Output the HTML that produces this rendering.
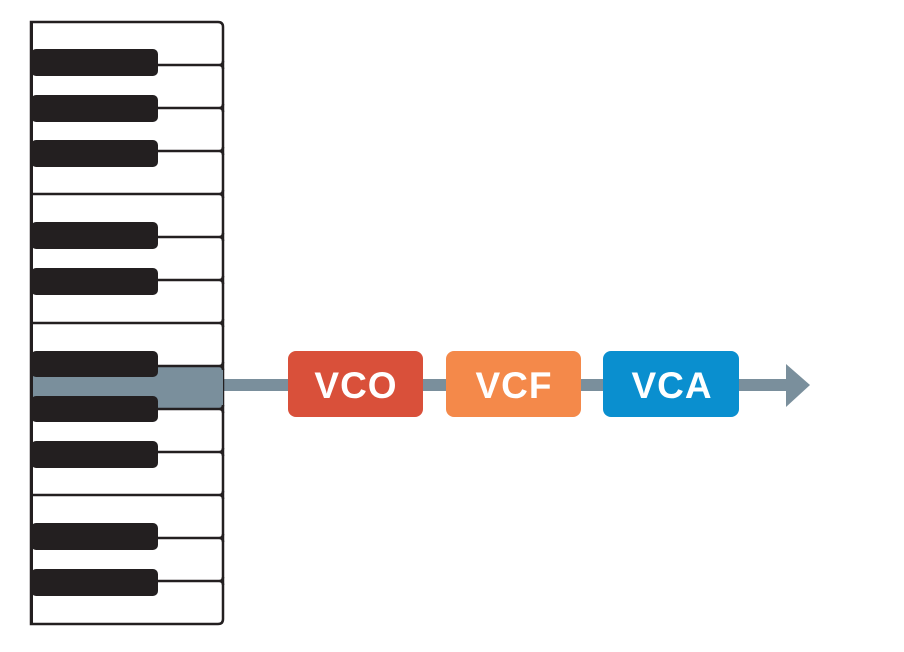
<!DOCTYPE html>
<html><head><style>body{margin:0;background:#fff}</style></head><body>
<svg width="904" height="647" xmlns="http://www.w3.org/2000/svg">
<rect x="0" y="0" width="904" height="647" fill="#fff"/>
<rect x="220" y="379" width="570" height="12" fill="#7a8f9c"/>
<polygon points="786,364 810,385 786,407" fill="#7a8f9c"/>
<path d="M31,22 H218 Q223,22 223,27 V619 Q223,624 218,624 H31 Z" fill="#fff" stroke="#231f20" stroke-width="2.5"/>
<path d="M31,366 H219 Q223,366 223,370 V405 Q223,409 219,409 H31 Z" fill="#7a8f9c"/>
<g stroke="#231f20" stroke-width="2.5" fill="none">
<path d="M155,65 H219 M223,61 Q223,65 219,65 Q223,65 223,69"/>
<path d="M155,108 H219 M223,104 Q223,108 219,108 Q223,108 223,112"/>
<path d="M155,151 H219 M223,147 Q223,151 219,151 Q223,151 223,155"/>
<path d="M31,194 H219 M223,190 Q223,194 219,194 Q223,194 223,198"/>
<path d="M155,237 H219 M223,233 Q223,237 219,237 Q223,237 223,241"/>
<path d="M155,280 H219 M223,276 Q223,280 219,280 Q223,280 223,284"/>
<path d="M31,323 H219 M223,319 Q223,323 219,323 Q223,323 223,327"/>
<path d="M155,366 H219 M223,362 Q223,366 219,366 Q223,366 223,370"/>
<path d="M155,409 H219 M223,405 Q223,409 219,409 Q223,409 223,413"/>
<path d="M155,452 H219 M223,448 Q223,452 219,452 Q223,452 223,456"/>
<path d="M31,495 H219 M223,491 Q223,495 219,495 Q223,495 223,499"/>
<path d="M155,538 H219 M223,534 Q223,538 219,538 Q223,538 223,542"/>
<path d="M155,581 H219 M223,577 Q223,581 219,581 Q223,581 223,585"/>
</g>
<g fill="#231f20">
<rect x="31" y="49" width="127" height="27" rx="5"/>
<rect x="31" y="95" width="127" height="27" rx="5"/>
<rect x="31" y="140" width="127" height="27" rx="5"/>
<rect x="31" y="222" width="127" height="27" rx="5"/>
<rect x="31" y="268" width="127" height="27" rx="5"/>
<rect x="31" y="351" width="127" height="26" rx="5"/>
<rect x="31" y="396" width="127" height="26" rx="5"/>
<rect x="31" y="441" width="127" height="27" rx="5"/>
<rect x="31" y="523" width="127" height="27" rx="5"/>
<rect x="31" y="569" width="127" height="27" rx="5"/>
</g>
<rect x="30" y="22" width="3" height="603" fill="#231f20"/>
<rect x="288" y="351" width="135" height="66" rx="8" fill="#d9503a"/>
<rect x="446" y="351" width="135" height="66" rx="8" fill="#f4894a"/>
<rect x="603" y="351" width="136" height="66" rx="8" fill="#0a8fcf"/>
<g font-family="Liberation Sans, sans-serif" font-weight="bold" font-size="37" fill="#fff" text-anchor="middle" letter-spacing="1">
<text x="356" y="398">VCO</text>
<text x="514" y="398">VCF</text>
<text x="672" y="398">VCA</text>
</g>
</svg>
</body></html>
